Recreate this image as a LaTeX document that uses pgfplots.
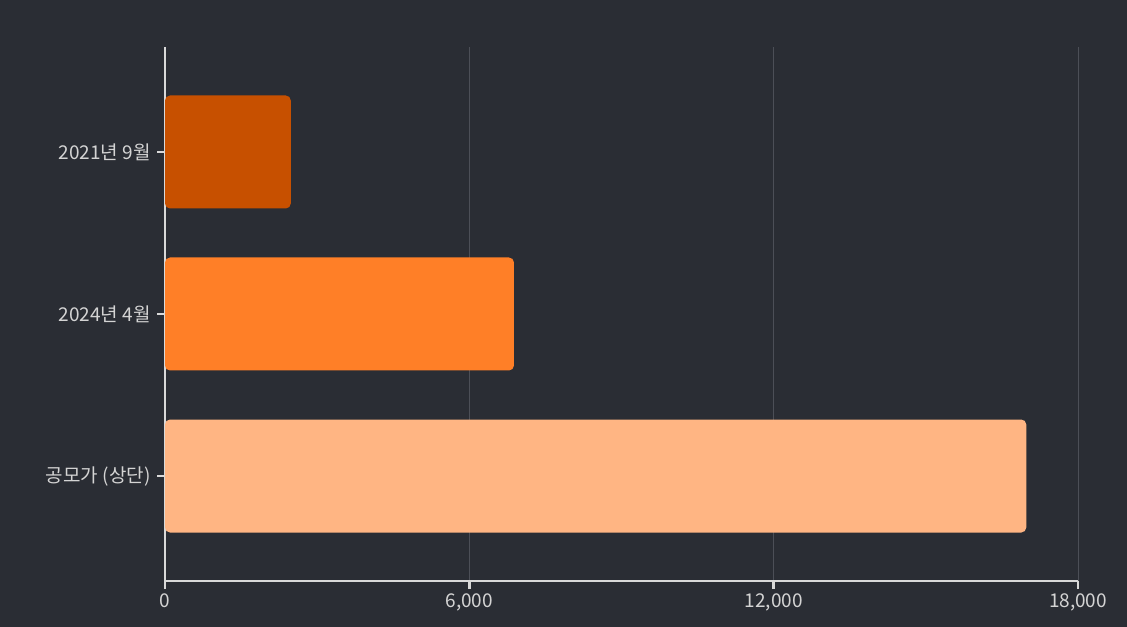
\documentclass[border=0pt]{standalone}
\usepackage{pgfplots}
\pgfplotsset{compat=1.18}
\usepackage{fontspec}
\setmainfont{Noto Sans CJK KR}
\definecolor{bg}{HTML}{2A2D34}
\definecolor{txt}{HTML}{D4D4D4}
\definecolor{axl}{HTML}{D9D9D9}
\definecolor{grd}{HTML}{4C4F57}
\definecolor{c1}{HTML}{C75000}
\definecolor{c2}{HTML}{FF7F27}
\definecolor{c3}{HTML}{FFB583}
\pgfplotsset{
  layers/mylayers/.define layer set={
    axis background,axis grid,main,axis ticks,axis lines,axis tick labels,axis descriptions,axis foreground
  }{},
}
\begin{document}
\begin{tikzpicture}
\fill[bg] (0,0) rectangle (1127bp,627bp);
\begin{axis}[
  set layers=mylayers,
  at={(165bp,46bp)}, anchor=south west,
  scale only axis, width=913bp, height=534bp,
  xmin=0, xmax=18000,
  ymin=-0.648, ymax=2.648, y dir=reverse,
  scaled x ticks=false,
  xtick={0,6000,12000,18000},
  xticklabels={0,{6,000},{12,000},{18,000}},
  ytick={0,1,2},
  yticklabels={2021년 9월,2024년 4월,공모가 (상단)},
  axis x line*=bottom, axis y line*=left,
  axis line style={color=axl, line width=2.5bp},
  tick style={color=axl, line width=2.5bp},
  major tick length=8bp,
  tick align=outside,
  xmajorgrids, major grid style={color=grd, line width=0.8bp},
  ticklabel style={color=txt, font=\fontsize{19bp}{22bp}\selectfont},
  /pgf/number format/assume math mode=true,
  xticklabel style={yshift=-1bp},
  yticklabel style={xshift=-3bp},
  xbar, bar width=113bp, bar shift=0pt,
]
\addplot[fill=c1, draw=none, rounded corners=5bp] coordinates {(2480,0)};
\addplot[fill=c2, draw=none, rounded corners=5bp] coordinates {(6880,1)};
\addplot[fill=c3, draw=none, rounded corners=5bp] coordinates {(16980,2)};
\end{axis}
\end{tikzpicture}
\end{document}
